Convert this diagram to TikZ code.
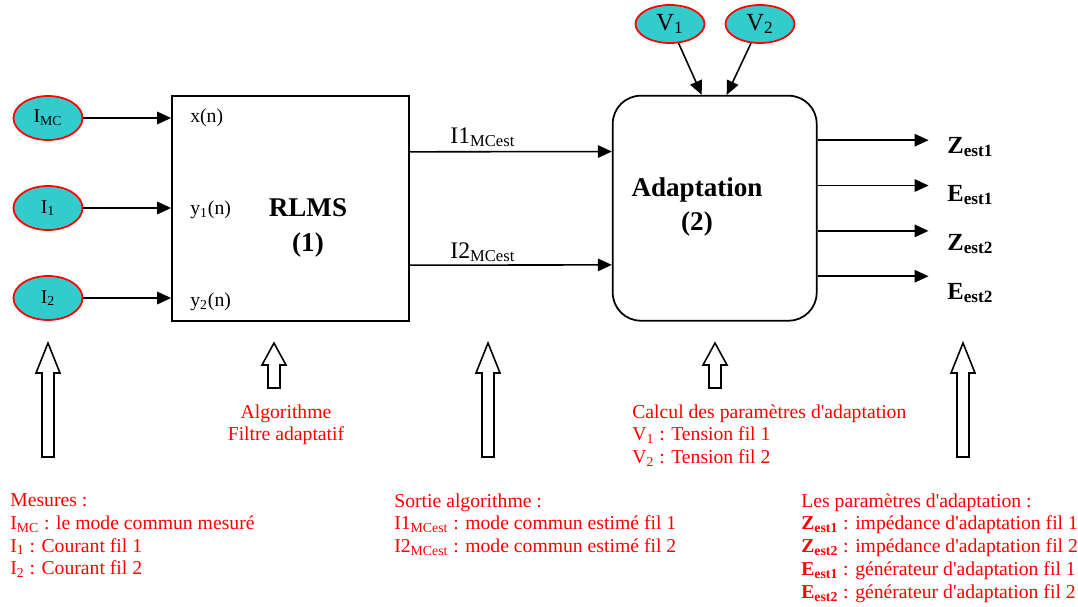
\documentclass[tikz,border=0pt]{standalone}
\usepackage{fontspec}
\setmainfont{Liberation Serif}
\usetikzlibrary{positioning, calc, arrows.meta, shapes.geometric}
\definecolor{MesureTeal}{HTML}{33CCCC}
\definecolor{NoteRed}{HTML}{FF0000}
\newcommand{\apo}{\textquotesingle}

\begin{document}
\begin{tikzpicture}[x=0.02cm, y=-0.02cm,
  mesure/.style={ellipse, draw=NoteRed, line width=1pt, fill=MesureTeal, minimum width=1.38cm, minimum height=0.88cm, inner sep=0pt, font=\fontsize{11.2}{13}\selectfont},
  bloc/.style={draw, line width=1pt, minimum height=4.5cm, inner sep=0pt},
  fleche/.style={line width=0.9pt, -{Triangle[length=0.28cm, width=0.25cm]}},
  entree/.style={font=\fontsize{11.2}{13}\selectfont, anchor=west, inner sep=0pt},
  titre/.style={font=\fontsize{15.4}{19.5}\selectfont\bfseries, align=center, inner sep=0pt},
  estim/.style={font=\fontsize{13.5}{16}\selectfont, anchor=base west, inner sep=0pt},
  sortie/.style={font=\fontsize{14}{16}\selectfont\bfseries, anchor=base west, inner sep=0pt},
  note/.style={text=NoteRed, font=\fontsize{11.2}{13.04}\selectfont, align=left, anchor=north west, inner sep=0pt},
]
  \useasboundingbox (0,0) rectangle (1078,606);

  % Mesures
  \node[mesure] (imc) at (48,118) {I\textsubscript{MC}};
  \node[mesure] (i1) at (48,208) {I\textsubscript{1}};
  \node[mesure] (i2) at (48,298) {I\textsubscript{2}};
  \node[mesure, minimum height=0.76cm, font=\fontsize{14}{16}\selectfont] (v1) at (670,24) {V\textsubscript{1}};
  \node[mesure, minimum height=0.76cm, font=\fontsize{14}{16}\selectfont] (v2) at (760,24) {V\textsubscript{2}};

  % Blocs
  \node[bloc, minimum width=4.74cm] (rlms) at (290.5,208.5) {};
  \node[titre] (rlmstxt) at (308,228) {RLMS\\(1)};
  \node[bloc, minimum width=4.08cm, rounded corners=0.56cm] (adapt) at (714.7,208.2) {};
  \node[titre] (adapttxt) at (697,207) {Adaptation\\(2)};

  % Entrees du filtre
  \node[entree] (xn) at (190,118) {x(n)};
  \node[entree] (y1n) at (190,210) {y\textsubscript{1}(n)};
  \node[entree] (y2n) at (190,302) {y\textsubscript{2}(n)};

  \draw[fleche] (imc) -- (rlms.west |- imc);
  \draw[fleche] (i1) -- (rlms.west |- i1);
  \draw[fleche] (i2) -- (rlms.west |- i2);

  % Sorties du filtre
  \draw[fleche] ($(rlms.north east)!0.25!(rlms.south east)$) -- ($(adapt.north west)!0.25!(adapt.south west)$);
  \draw[fleche] ($(rlms.north east)!0.75!(rlms.south east)$) -- ($(adapt.north west)!0.75!(adapt.south west)$);
  \node[estim] (i1est) at (450,143) {I1\textsubscript{MCest}};
  \node[estim] (i2est) at (450,258) {I2\textsubscript{MCest}};

  % Tensions
  \draw[fleche] (v1) -- ($(adapt.north)+(-13,0)$);
  \draw[fleche] (v2) -- ($(adapt.north)+(12,0)$);

  % Parametres d'adaptation
  \foreach \f in {0.2,0.4,0.6,0.8}
    \draw[fleche] ($(adapt.north east)!\f!(adapt.south east)$) -- ++(111,0);
  \node[sortie] (zest1) at (947,153) {Z\textsubscript{est1}};
  \node[sortie] (eest1) at (947,201) {E\textsubscript{est1}};
  \node[sortie] (zest2) at (947,250) {Z\textsubscript{est2}};
  \node[sortie] (eest2) at (947,299) {E\textsubscript{est2}};

  % Grosses fleches
  \foreach \cx/\by/\hy in {48/457/373, 274/388/365, 488/457/373, 715/388/365, 963/457/373}
    \draw[line width=0.9pt, line join=miter] (\cx-6,\by) -- (\cx-6,\hy) -- (\cx-12,\hy) -- (\cx,343)
      -- (\cx+12,\hy) -- (\cx+6,\hy) -- (\cx+6,\by) -- cycle;

  % Commentaires
  \node[note, align=center, anchor=north] (algo) at (286,404) {Algorithme\\Filtre adaptatif};
  \node[note] (calcul) at (632,404) {Calcul des param\`etres d\apo adaptation\\
    V\textsubscript{1} : Tension fil 1\\
    V\textsubscript{2} : Tension fil 2};
  \node[note] (mesures) at (10,493) {Mesures :\\
    I\textsubscript{MC} : le mode commun mesur\'e\\
    I\textsubscript{1} : Courant fil 1\\
    I\textsubscript{2} : Courant fil 2};
  \node[note] (algosortie) at (394,493) {Sortie algorithme :\\
    I1\textsubscript{MCest} : mode commun estim\'e fil 1\\
    I2\textsubscript{MCest} : mode commun estim\'e fil 2};
  \node[note] (params) at (801,493) {Les param\`etres d\apo adaptation :\\
    \textbf{Z\textsubscript{est1}} : imp\'edance d\apo adaptation fil 1\\
    \textbf{Z\textsubscript{est2}} : imp\'edance d\apo adaptation fil 2\\
    \textbf{E\textsubscript{est1}} : g\'en\'erateur d\apo adaptation fil 1\\
    \textbf{E\textsubscript{est2}} : g\'en\'erateur d\apo adaptation fil 2};
\end{tikzpicture}
\end{document}
